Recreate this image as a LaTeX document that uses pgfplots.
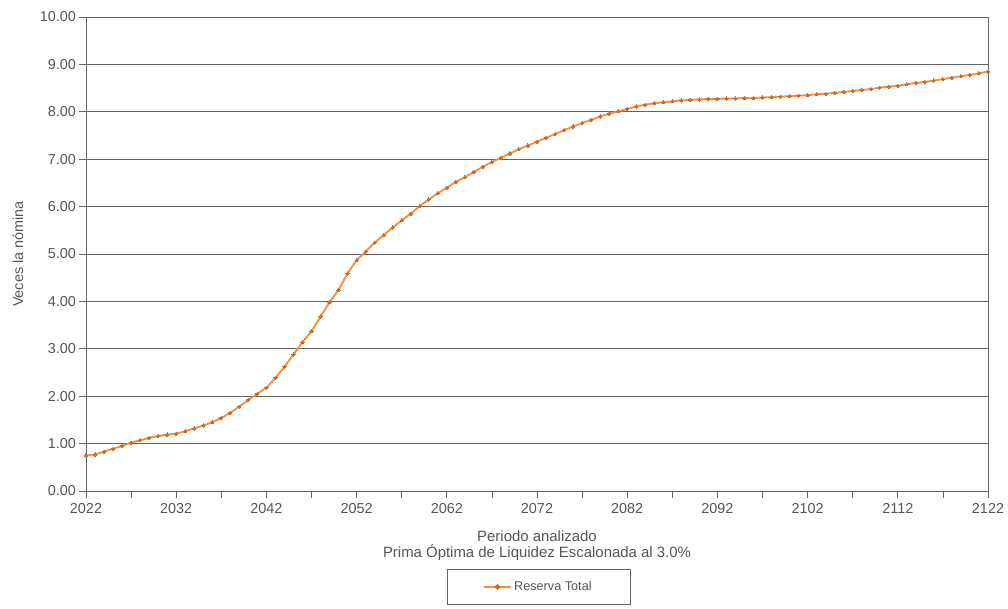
\documentclass[border=0pt]{standalone}
\usepackage{pgfplots}
\pgfplotsset{compat=1.18}
\usepackage{fontspec}
\setmainfont{Liberation Sans}
\definecolor{txt}{RGB}{85,85,85}
\definecolor{gridc}{RGB}{100,100,100}
\definecolor{lineorange}{RGB}{240,145,70}
\definecolor{markc}{RGB}{200,105,45}
\pgfplotstableread{
year val
2022 0.75
2023 0.77
2024 0.83
2025 0.89
2026 0.95
2027 1.02
2028 1.07
2029 1.12
2030 1.16
2031 1.19
2032 1.21
2033 1.26
2034 1.32
2035 1.38
2036 1.45
2037 1.54
2038 1.65
2039 1.78
2040 1.92
2041 2.05
2042 2.18
2043 2.39
2044 2.62
2045 2.88
2046 3.14
2047 3.37
2048 3.68
2049 3.98
2050 4.24
2051 4.59
2052 4.87
2053 5.05
2054 5.24
2055 5.40
2056 5.56
2057 5.71
2058 5.85
2059 6.01
2060 6.15
2061 6.28
2062 6.40
2063 6.52
2064 6.62
2065 6.73
2066 6.84
2067 6.94
2068 7.03
2069 7.12
2070 7.21
2071 7.29
2072 7.37
2073 7.45
2074 7.53
2075 7.61
2076 7.69
2077 7.76
2078 7.83
2079 7.90
2080 7.96
2081 8.01
2082 8.06
2083 8.11
2084 8.15
2085 8.18
2086 8.20
2087 8.22
2088 8.24
2089 8.25
2090 8.26
2091 8.27
2092 8.27
2093 8.28
2094 8.28
2095 8.29
2096 8.29
2097 8.30
2098 8.31
2099 8.32
2100 8.33
2101 8.34
2102 8.35
2103 8.37
2104 8.38
2105 8.40
2106 8.42
2107 8.44
2108 8.46
2109 8.48
2110 8.51
2111 8.53
2112 8.55
2113 8.58
2114 8.61
2115 8.63
2116 8.66
2117 8.69
2118 8.72
2119 8.75
2120 8.78
2121 8.81
2122 8.85
}\datatable
\begin{document}
\begin{tikzpicture}
\useasboundingbox (0pt,0pt) rectangle (756pt,456.75pt);
\begin{axis}[
  at={(64.5pt,88.5pt)}, anchor=south west,
  scale only axis,
  width=676.5pt, height=355.5pt,
  xmin=2022, xmax=2122, ymin=0, ymax=10,
  xtick={2022,2032,...,2122},
  minor xtick={2027,2037,...,2117},
  ytick={0,1,...,10},
  xtick pos=bottom, ytick pos=left,
  tick align=outside,
  major tick length=5pt, minor tick length=5pt,
  tick style={gridc, line width=0.6pt},
  axis line style={gridc, line width=0.7pt},
  ymajorgrids,
  grid style={gridc, line width=0.6pt},
  x tick label style={/pgf/number format/1000 sep={}, font=\fontsize{10.8}{12}\selectfont, text=txt, yshift=-1pt},
  y tick label style={/pgf/number format/fixed, /pgf/number format/fixed zerofill, /pgf/number format/precision=2, font=\fontsize{10.8}{12}\selectfont, text=txt, xshift=1pt},
  /pgf/number format/assume math mode=true,
  ylabel={Veces la nómina},
  ylabel style={font=\fontsize{10.8}{12}\selectfont, text=txt, at={(axis description cs:0,0.5)}, anchor=center, yshift=51pt},
  xlabel={Periodo analizado\\Prima Óptima de Liquidez Escalonada al 3.0\%},
  xlabel style={font=\fontsize{11.2}{12.2}\selectfont, text=txt, align=center, at={(axis description cs:0.5,0)}, anchor=north, yshift=-26pt},
  legend style={at={(axis description cs:0.502,-0.2025)}, anchor=center, draw=gridc, line width=0.6pt, font=\fontsize{9.5}{11}\selectfont, text=txt, inner xsep=27pt, inner ysep=7pt},
  legend image code/.code={\draw[lineorange, line width=1.2pt] (0cm,0cm) -- (0.7cm,0cm); \fill[markc] (0.35cm,0cm) circle (1.2pt);},
]
\addplot[lineorange, line width=1.4pt, mark=*, mark size=1.2pt, mark options={fill=markc, draw=markc, line width=0pt}] table[x=year,y=val] {\datatable};
\addlegendentry{Reserva Total}
\end{axis}
\end{tikzpicture}
\end{document}
